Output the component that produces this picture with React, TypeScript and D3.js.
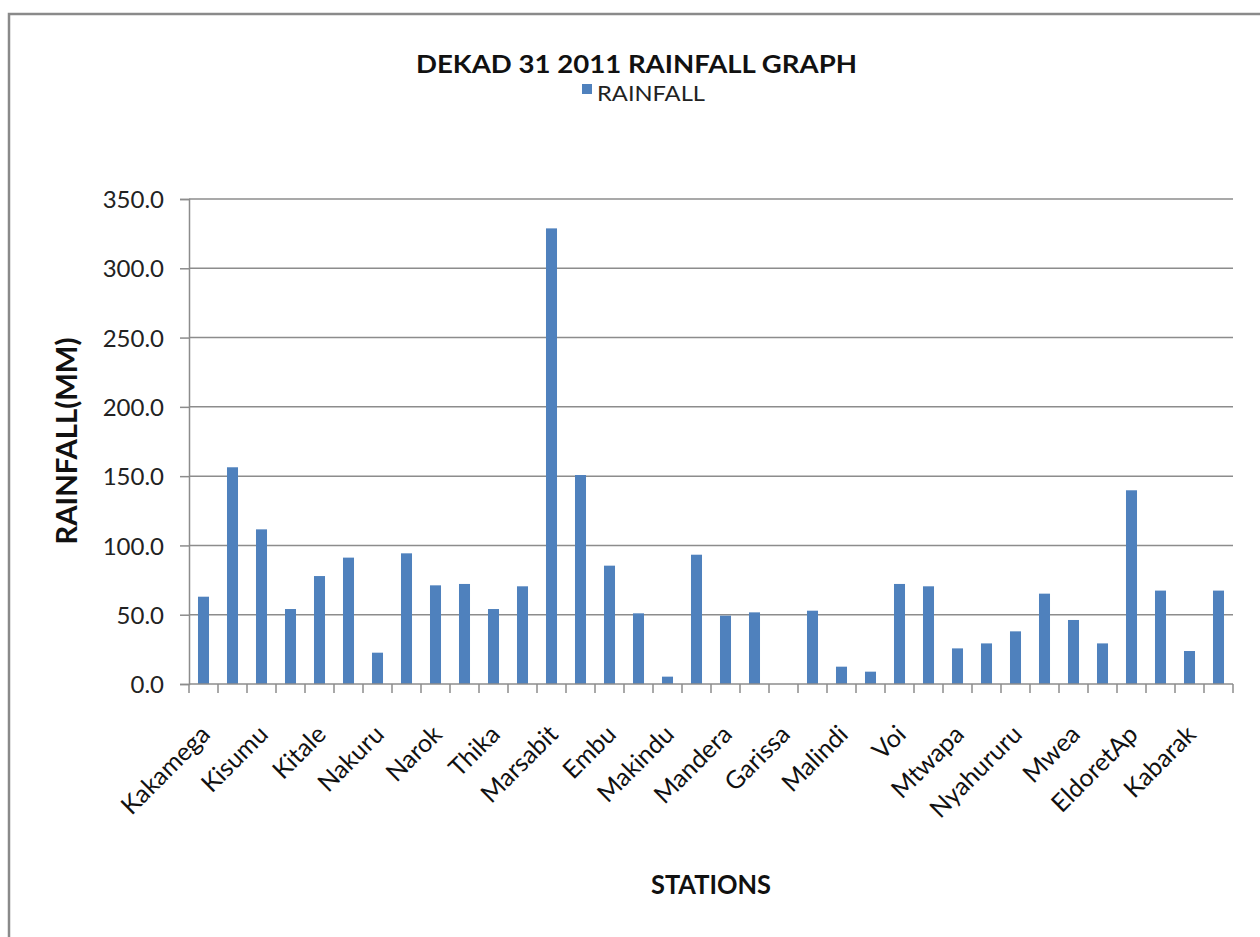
import React, { useEffect, useRef } from "react";
import * as d3 from "d3";

// rainfall per station (mm), left to right
const rainfall = [
    63.0, 156.4, 111.6, 54.1, 77.9, 91.2, 22.6, 94.3, 71.2, 72.2, 54.1, 70.5,
    328.8, 150.8, 85.4, 51.0, 5.3, 93.3, 49.3, 51.7, 0.0, 52.9, 12.5, 8.9,
    72.2, 70.5, 25.7, 29.3, 38.0, 65.2, 46.2, 29.3, 139.8, 67.4, 23.8, 67.4,
];
// only every second station name is printed on the axis
const stationLabels = [
    "Kakamega", "Kisumu", "Kitale", "Nakuru", "Narok", "Thika", "Marsabit",
    "Embu", "Makindu", "Mandera", "Garissa", "Malindi", "Voi", "Mtwapa",
    "Nyahururu", "Mwea", "EldoretAp", "Kabarak",
];
const yTicks = [0, 50, 100, 150, 200, 250, 300, 350];

const W = 1260;
const H = 937;
const FONT = "Lato, 'Open Sans', sans-serif";

const App = () => {
    const ref = useRef<SVGSVGElement>(null);

    useEffect(() => {
        if (!ref.current) return;
        const svg = d3.select(ref.current);
        svg.selectAll("*").remove();

        const left = 189;
        const right = 1233;
        const top = 199;
        const bottom = 684;

        // outer chart frame (right and bottom edges fall outside the picture)
        svg.append("rect")
            .attr("x", 9)
            .attr("y", 14)
            .attr("width", W + 40)
            .attr("height", H + 40)
            .attr("fill", "white")
            .attr("stroke", "#8a8a8a")
            .attr("stroke-width", 2.5);

        const idx = rainfall.map((_, i) => i);
        const x = d3
            .scaleBand<number>()
            .domain(idx)
            .range([left, right])
            .paddingInner(0.62)
            .paddingOuter(0.31);
        const step = x.step();

        const y = d3.scaleLinear().domain([0, 350]).range([bottom, top]);

        // gridlines
        svg.append("g")
            .selectAll("line")
            .data(yTicks.slice(1))
            .enter()
            .append("line")
            .attr("x1", left)
            .attr("x2", right)
            .attr("y1", (d) => y(d))
            .attr("y2", (d) => y(d))
            .attr("stroke", "#8c8c8c")
            .attr("stroke-width", 1.5);

        // y axis
        const yAxis = d3
            .axisLeft(y)
            .tickValues(yTicks)
            .tickSize(9)
            .tickPadding(16)
            .tickFormat((d) => d3.format(".1f")(d as number));
        const gy = svg
            .append("g")
            .attr("transform", `translate(${left},0)`)
            .call(yAxis);
        gy.select(".domain").attr("stroke", "#8c8c8c").attr("stroke-width", 1.5);
        gy.selectAll(".tick line").attr("stroke", "#8c8c8c").attr("stroke-width", 1.5);
        gy.selectAll("text")
            .attr("font-family", FONT)
            .attr("font-size", 24)
            .attr("fill", "#222")
            .attr("dy", "0.36em");

        // bars
        svg.append("g")
            .selectAll("rect")
            .data(rainfall)
            .enter()
            .append("rect")
            .attr("x", (_, i) => x(i)!)
            .attr("y", (d) => y(d))
            .attr("width", x.bandwidth())
            .attr("height", (d) => bottom - y(d))
            .attr("fill", "#4f81bd");

        // x axis line + ticks between categories
        svg.append("line")
            .attr("x1", left)
            .attr("x2", right)
            .attr("y1", bottom)
            .attr("y2", bottom)
            .attr("stroke", "#8c8c8c")
            .attr("stroke-width", 1.5);
        const bounds = d3.range(rainfall.length + 1).map((i) => left + i * step);
        svg.append("g")
            .selectAll("line")
            .data(bounds)
            .enter()
            .append("line")
            .attr("x1", (d) => d)
            .attr("x2", (d) => d)
            .attr("y1", bottom)
            .attr("y2", bottom + 9)
            .attr("stroke", "#8c8c8c")
            .attr("stroke-width", 1.5);

        // station labels, every other category
        svg.append("g")
            .selectAll("text")
            .data(stationLabels)
            .enter()
            .append("text")
            .attr("transform", (_, k) => {
                const cx = x(k * 2)! + x.bandwidth() / 2;
                return `translate(${cx + 8},${bottom + 52}) rotate(-45)`;
            })
            .attr("text-anchor", "end")
            .attr("font-family", FONT)
            .attr("font-size", 25)
            .attr("fill", "#111")
            .text((d) => d);

        // title and legend
        svg.append("text")
            .attr("x", 416)
            .attr("y", 73)
            .attr("textLength", 441)
            .attr("lengthAdjust", "spacingAndGlyphs")
            .attr("font-family", FONT)
            .attr("font-weight", "bold")
            .attr("font-size", 25)
            .attr("fill", "#111")
            .text("DEKAD 31 2011 RAINFALL GRAPH");
        svg.append("rect")
            .attr("x", 582)
            .attr("y", 84)
            .attr("width", 10)
            .attr("height", 10)
            .attr("fill", "#4f81bd");
        svg.append("text")
            .attr("x", 597)
            .attr("y", 101)
            .attr("textLength", 108)
            .attr("lengthAdjust", "spacingAndGlyphs")
            .attr("font-family", FONT)
            .attr("font-size", 22)
            .attr("fill", "#222")
            .text("RAINFALL");

        // axis titles, centred on the plot area
        svg.append("text")
            .attr("transform", `translate(77,${(top + bottom) / 2 + 103}) rotate(-90)`)
            .attr("textLength", 207)
            .attr("lengthAdjust", "spacingAndGlyphs")
            .attr("font-family", FONT)
            .attr("font-weight", "bold")
            .attr("font-size", 28)
            .attr("fill", "#111")
            .text("RAINFALL(MM)");
        svg.append("text")
            .attr("x", (left + right) / 2 - 60)
            .attr("y", 894)
            .attr("textLength", 120)
            .attr("lengthAdjust", "spacingAndGlyphs")
            .attr("font-family", FONT)
            .attr("font-weight", "bold")
            .attr("font-size", 27)
            .attr("fill", "#111")
            .text("STATIONS");
    }, []);

    return (
        <div style={{ position: "absolute", left: 0, top: 0 }}>
            <svg ref={ref} width={W} height={H} style={{ display: "block", background: "white" }} />
        </div>
    );
};

export default App;
